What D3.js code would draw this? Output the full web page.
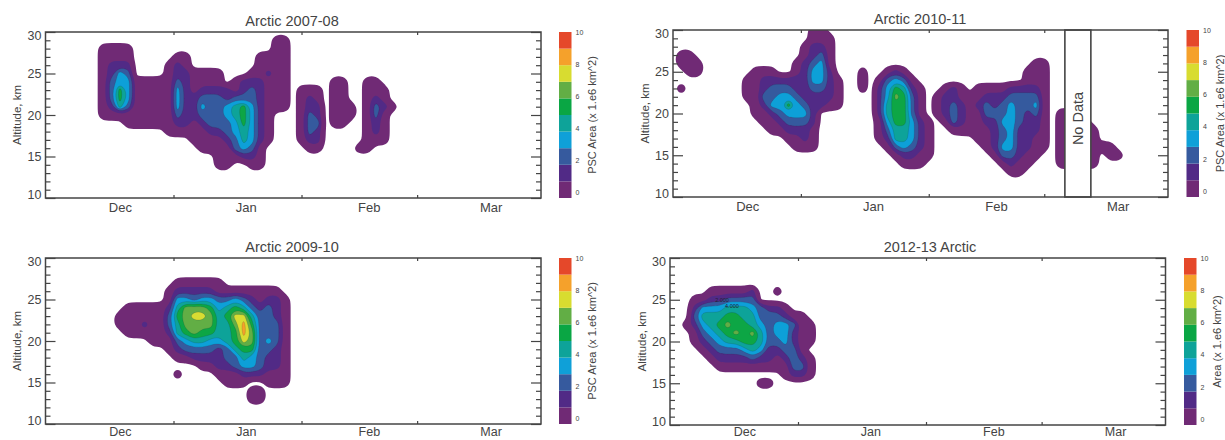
<!DOCTYPE html>
<html>
<head>
<meta charset="utf-8">
<script src="https://cdn.jsdelivr.net/npm/d3@7"></script>
<style>
  body { margin: 0; background: #fff; }
  text { font-family: "Liberation Sans", Arial, sans-serif; fill: #444; }
</style>
</head>
<body>
<script>
// PSC area: one string per altitude (30 km down to 10 km),
// one digit per 2 days starting 1 Dec. Digit n = colour band n (area n - 0.5), 0 = nothing.
var arctic0708 = [
  "",
  "000000000000000000000000000011",
  "000000011110000000000000000011",
  "000000011110000011000000001111",
  "000000012220000121000000001111",
  "000000012430000122111100011211",
  "00000001344111113211110122211100000110011",
  "000000013641111142122221232111011101100111",
  "000000013641111142233323332111012101100121",
  "0000000125311111422433456421110122011101321",
  "000000011111111132233345642100013201110131",
  "000000000011111122123334642100013301100121",
  "000000000000000111112234542100013200000121",
  "000000000000000000111123542100012200000111",
  "0000000000000000000111134310000011000011",
  "000000000000000000000111221",
  "000000000000000000000110011"
];

var arctic1011 = [
  "0000000000000000011",
  "00000000000000000111",
  "00000000000000001221",
  "01100000000000001231",
  "0111000000000001234100000000000000000000000011",
  "0011000000111001244200010012100000000000000111",
  "0000000001122222244210010134310000000000000111",
  "0100000001123332233210010246521001210111122221",
  "0000000001133443222210000247631012211122233331",
  "0000000000124464322110000256631012321232343341",
  "0000000000112344420000000256631012321133343231011",
  "000000000001123332000000014664210132112244322101111",
  "0000000000001122210000000135542100111112342221011111",
  "0000000000000011210000000125542100000112342211011111",
  "000000000000000111000000001343210000001244221101111111",
  "0000000000000000000000000001221100000001332110011111011",
  "0000000000000000000000000000111000000000121100011111",
  "0000000000000000000000000000000000000000011"
];

var arctic0910 = [
  "",
  "",
  "",
  "0000000000000000111111",
  "00000000000000012222211111111",
  "000000000000000144344334321221",
  "000000000011111257776456532321",
  "000000000111111367887568853321",
  "000000000111211357777557963331",
  "000000000011111256766556973331",
  "000000000000011134554456873431",
  "000000000000000123333235663321",
  "000000000000000011222233543221",
  "000000000000000000011223443221",
  "000000000000000010000111222111",
  "000000000000000000000011100111",
  "000000000000000000000000011",
  "000000000000000000000000011"
];

var arctic1213 = [
  "",
  "",
  "",
  "",
  "00000111112001",
  "00011223333",
  "000244455543221",
  "00035556655333211",
  "001245676654344311",
  "000134567675344211",
  "000123455665334211",
  "00001233345422331",
  "000001222232212321",
  "000000111111111331",
  "000000000000001221",
  "0000000000011"
];

// colour bar
var bandColors = ["#702a75", "#512a86", "#365a9e", "#0fa0d8", "#0ea399", "#0aa644", "#62ae45", "#d8dc30", "#f5a12b", "#e5482a"];
var bandLevels = [0, 1, 2, 3, 4, 5, 6, 7, 8, 9];
var colorbarTicks = [0, 2, 4, 6, 8, 10];

// axes
var monthBoundaries = [31, 62, 90];
var monthLabelDays = [18, 48.5, 78.3, 107.8];
var monthNames = ["Dec", "Jan", "Feb", "Mar"];
var altitudeMajor = [10, 15, 20, 25, 30];
var altitudeMinor = [11, 12, 13, 14, 16, 17, 18, 19, 21, 22, 23, 24, 26, 27, 28, 29];

// contour labels that can still be read
var labels1213 = [[12.6, 24.7, "2.000"], [15, 24, "4.000"]];

var gridCols = 60, gridRows = 21;

var svg = d3.select("body").append("svg")
  .attr("width", 1225)
  .attr("height", 440);

// The scan is soft, so the filled contours get a slight blur
svg.append("defs").append("filter")
  .attr("id", "soft")
  .append("feGaussianBlur")
  .attr("stdDeviation", 0.5);

drawPanel({title: "Arctic 2007-08", titleX: 292, titleY: 26, data: arctic0708, left: 45.5, right: 541, top: 32, bottom: 198,
  barLeft: 559, barTitle: "PSC Area (x 1.e6 km^2)", barTitleX: 592, yTitleX: 17, monthPad: 5, monthSize: 13});
drawPanel({title: "Arctic 2010-11", titleX: 920, titleY: 24, data: arctic1011, left: 673, right: 1168, top: 30, bottom: 197,
  barLeft: 1186.5, barTitle: "PSC Area (x 1.e6 km^2)", barTitleX: 1220, yTitleX: 645, monthPad: 5, monthSize: 13, noData: [95, 101.3]});
drawPanel({title: "Arctic 2009-10", titleX: 292, titleY: 252, data: arctic0910, left: 45.5, right: 541, top: 258, bottom: 424,
  barLeft: 559, barTitle: "PSC Area (x 1.e6 km^2)", barTitleX: 592, yTitleX: 17, monthPad: 3, monthSize: 12.5});
drawPanel({title: "2012-13 Arctic", titleX: 930, titleY: 252, data: arctic1213, left: 670, right: 1165.5, top: 258, bottom: 425,
  barLeft: 1184, barTitle: "Area (x 1.e6 km^2)", barTitleX: 1217, yTitleX: 642, monthPad: 2.5, monthSize: 12.5, contourLabels: labels1213});

function drawPanel(p){
  var g = svg.append("g");

  var x = d3.scaleLinear().domain([0, 120]).range([p.left, p.right]);
  var y = d3.scaleLinear().domain([10, 30]).range([p.bottom, p.top]);

  // Turning the digit rows into a flat grid for d3.contours
  var values = [];
  for (var r = 0; r < gridRows; r++){
    var row = (p.data[r] || "").padEnd(gridCols, "0");
    for (var c = 0; c < gridCols; c++){
      values.push(+row[c] - 0.5);
    }
  }

  var contours = d3.contours()
    .size([gridCols, gridRows])
    .thresholds(bandLevels)(values);

  // Grid cell centres sit at +0.5 in contour coordinates; a basis curve rounds off the rings
  var ringLine = d3.line()
    .x(function(d){ return x((d[0] - 0.5) * 2); })
    .y(function(d){ return y(30 - (d[1] - 0.5)); })
    .curve(d3.curveBasisClosed);

  function contourPath(d){
    return d.coordinates.map(function(polygon){
      return polygon.map(function(ring){ return ringLine(ring.slice(0, -1)); }).join("");
    }).join("");
  }

  var clipId = "clip" + Math.round(p.left) + "_" + Math.round(p.top);
  g.append("clipPath").attr("id", clipId)
    .append("rect")
    .attr("x", p.left).attr("y", p.top)
    .attr("width", p.right - p.left).attr("height", p.bottom - p.top);

  g.append("g")
    .attr("clip-path", "url(#" + clipId + ")")
    .append("g")
    .attr("filter", "url(#soft)")
    .selectAll("path")
    .data(contours)
    .enter()
    .append("path")
    .attr("d", contourPath)
    .attr("fill-rule", "evenodd")
    .attr("fill", function(d, i){ return bandColors[i]; })
    .attr("stroke", function(d, i){ return i == 0 ? bandColors[0] : i == 1 ? "none" : "#223"; })
    .attr("stroke-width", function(d, i){ return i == 0 ? 3 : 0.3; })
    .attr("stroke-opacity", function(d, i){ return i == 0 ? 1 : 0.5; })
    .attr("stroke-linejoin", "round");

  if (p.contourLabels){
    g.selectAll(".clabel")
      .data(p.contourLabels)
      .enter()
      .append("text")
      .attr("class", "clabel")
      .attr("x", function(d){ return x(d[0]); })
      .attr("y", function(d){ return y(d[1]); })
      .attr("text-anchor", "middle")
      .style("font-size", "5.5px")
      .style("fill", "#223")
      .text(function(d){ return d[2]; });
  }

  // Box over the missing stretch of the 2010-11 record
  if (p.noData){
    g.append("rect")
      .attr("x", x(p.noData[0]))
      .attr("y", p.top)
      .attr("width", x(p.noData[1]) - x(p.noData[0]))
      .attr("height", p.bottom - p.top)
      .attr("fill", "#fff")
      .attr("stroke", "#444")
      .attr("stroke-width", 1.6);
    g.append("text")
      .attr("transform", "translate(" + (x((p.noData[0] + p.noData[1]) / 2) + 5) + "," + y(19.4) + ") rotate(-90)")
      .attr("text-anchor", "middle")
      .style("font-size", "14.5px")
      .text("No Data");
  }

  // Frame
  g.append("rect")
    .attr("x", p.left).attr("y", p.top)
    .attr("width", p.right - p.left).attr("height", p.bottom - p.top)
    .attr("fill", "none")
    .attr("stroke", "#444")
    .attr("stroke-width", 1.5);

  // Altitude ticks on both sides, pointing inwards
  addAxis(d3.axisLeft(y).tickValues(altitudeMajor).tickSize(-10).tickPadding(4), p.left, 0, 12.5)
    .selectAll("text")
    .attr("dy", function(d){ return d == 30 ? "0.6em" : d == 10 ? "0.02em" : "0.32em"; });
  addAxis(d3.axisLeft(y).tickValues(altitudeMinor).tickSize(-5).tickFormat(""), p.left, 0, 1);
  addAxis(d3.axisRight(y).tickValues(altitudeMajor).tickSize(-10).tickFormat(""), p.right, 0, 1);
  addAxis(d3.axisRight(y).tickValues(altitudeMinor).tickSize(-5).tickFormat(""), p.right, 0, 1);

  // Month boundaries as small ticks, month names set apart from them
  addAxis(d3.axisBottom(x).tickValues(monthBoundaries).tickSize(-3).tickFormat(""), 0, p.bottom, 1);
  addAxis(d3.axisTop(x).tickValues(monthBoundaries).tickSize(-3).tickFormat(""), 0, p.top, 1);
  addAxis(d3.axisBottom(x).tickValues(monthLabelDays).tickSize(0).tickPadding(p.monthPad)
    .tickFormat(function(d, i){ return monthNames[i]; }), 0, p.bottom, p.monthSize);

  function addAxis(axis, tx, ty, fontSize){
    var a = g.append("g")
      .attr("transform", "translate(" + tx + "," + ty + ")")
      .call(axis);
    a.select(".domain").remove();
    a.selectAll("line").attr("stroke", "#444").attr("stroke-width", 1.2);
    a.selectAll("text").style("font-size", fontSize + "px");
    return a;
  }

  // Titles
  g.append("text")
    .attr("x", p.titleX).attr("y", p.titleY)
    .attr("text-anchor", "middle")
    .style("font-size", "14.5px")
    .text(p.title);

  g.append("text")
    .attr("transform", "translate(" + p.yTitleX + "," + (p.top + p.bottom) / 2 + ") rotate(-90)")
    .attr("text-anchor", "middle")
    .attr("dy", "0.35em")
    .style("font-size", "11.5px")
    .text("Altitude, km");

  // Colour bar
  var barWidth = 12.5;
  var barScale = d3.scaleLinear().domain([0, 10]).range([p.bottom, p.top]);
  g.selectAll(".band")
    .data(bandColors)
    .enter()
    .append("rect")
    .attr("class", "band")
    .attr("x", p.barLeft)
    .attr("y", function(d, i){ return barScale(i + 1); })
    .attr("width", barWidth)
    .attr("height", function(d, i){ return barScale(i) - barScale(i + 1); })
    .attr("fill", function(d){ return d; });

  var barTickScale = d3.scaleLinear().domain([0, 10]).range([p.bottom - 6, p.top]);
  var barAxis = g.append("g")
    .attr("transform", "translate(" + (p.barLeft + barWidth) + ",0)")
    .call(d3.axisRight(barTickScale).tickValues(colorbarTicks).tickSize(0).tickPadding(4));
  barAxis.select(".domain").remove();
  barAxis.selectAll("text").style("font-size", "7px");

  g.append("text")
    .attr("transform", "translate(" + p.barTitleX + "," + (p.top + p.bottom) / 2 + ") rotate(-90)")
    .attr("text-anchor", "middle")
    .attr("dy", "0.35em")
    .style("font-size", "11px")
    .text(p.barTitle);
}
</script>
</body>
</html>
